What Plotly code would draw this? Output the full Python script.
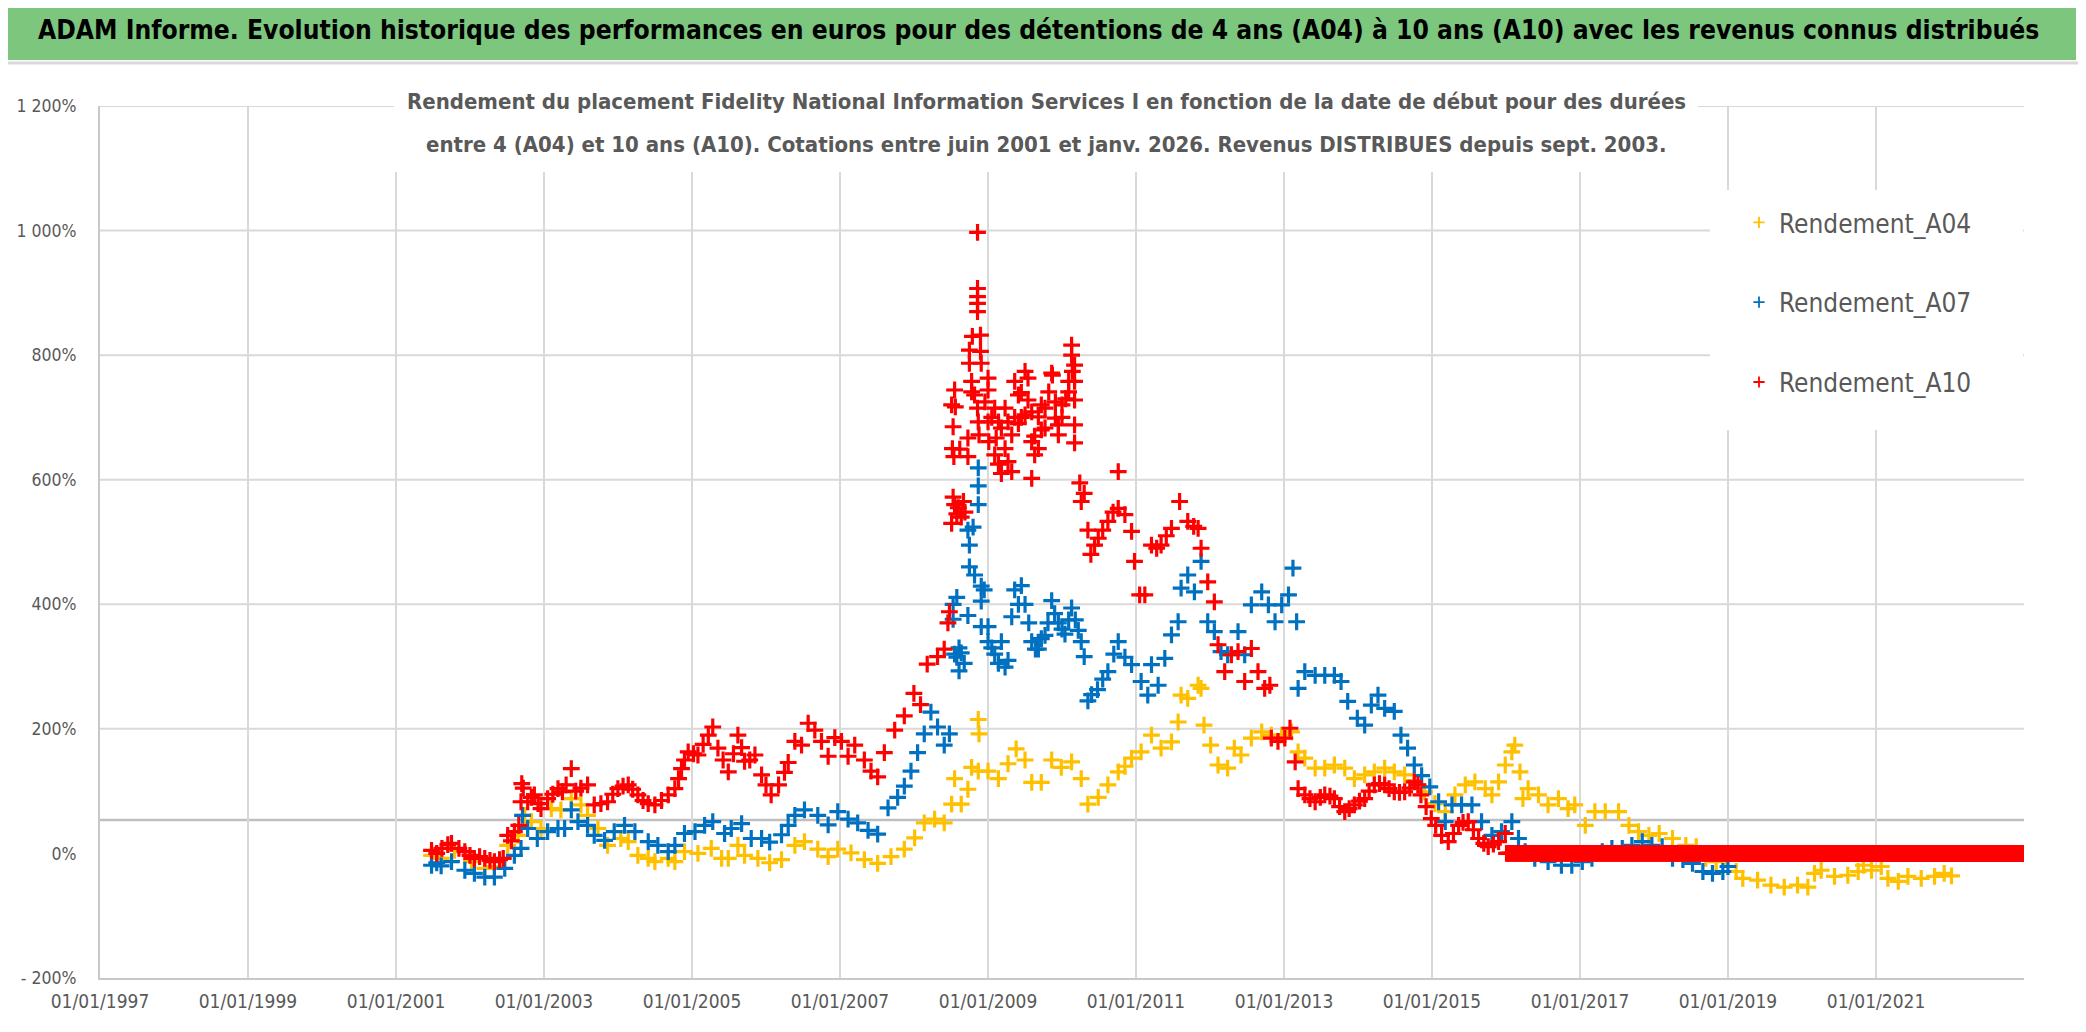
import pandas as pd
import plotly.graph_objects as go

# ---------------- data ----------------
A04_YEARS = [2001.48, 2001.61, 2001.79, 2002.02, 2002.20, 2002.33, 2002.51, 2002.65, 2002.74, 2002.83,
             2002.96, 2003.10, 2003.23, 2003.37, 2003.50, 2003.59, 2003.73, 2003.86, 2004.04, 2004.14,
             2004.27, 2004.41, 2004.50, 2004.68, 2004.77, 2004.90, 2005.08, 2005.26, 2005.40, 2005.49,
             2005.62, 2005.71, 2005.89, 2006.05, 2006.21, 2006.39, 2006.52, 2006.70, 2006.84, 2006.97,
             2007.15, 2007.33, 2007.51, 2007.69, 2007.87, 2008.01, 2008.14, 2008.28, 2008.41, 2008.51,
             2008.55, 2008.64, 2008.73, 2008.78, 2008.87, 2008.87, 2008.88, 2009.00, 2009.14, 2009.27,
             2009.38, 2009.50, 2009.59, 2009.72, 2009.86, 2009.99, 2010.13, 2010.26, 2010.35, 2010.49,
             2010.62, 2010.76, 2010.85, 2010.94, 2011.07, 2011.21, 2011.34, 2011.48, 2011.57, 2011.61,
             2011.70, 2011.84, 2011.88, 2011.92, 2012.01, 2012.11, 2012.24, 2012.33, 2012.42, 2012.56,
             2012.70, 2012.83, 2012.97, 2013.10, 2013.19, 2013.28, 2013.42, 2013.55, 2013.68, 2013.82,
             2013.95, 2014.09, 2014.22, 2014.36, 2014.49, 2014.63, 2014.76, 2014.90, 2015.04, 2015.18,
             2015.31, 2015.45, 2015.58, 2015.72, 2015.81, 2015.90, 2015.99, 2016.08, 2016.12, 2016.19,
             2016.23, 2016.30, 2016.44, 2016.57, 2016.71, 2016.84, 2016.93, 2017.07, 2017.20, 2017.34,
             2017.52, 2017.66, 2017.79, 2017.93, 2018.07, 2018.25, 2018.43, 2018.57, 2018.70, 2018.84,
             2018.98, 2019.11, 2019.20, 2019.40, 2019.58, 2019.76, 2019.94, 2020.08, 2020.17, 2020.26,
             2020.44, 2020.62, 2020.76, 2020.83, 2020.94, 2021.07, 2021.16, 2021.30, 2021.43, 2021.61,
             2021.79, 2021.92, 2022.02]
A04_VALUES = [-3, -8, 5, -13, -24, -21, 13, 29, 61, 51,
              40, 72, 70, 88, 78, 61, 40, 13, 24, 19,
              -3, -8, -13, -8, -13, 3, 0, 8, -8, -8,
              13, -3, -8, -15, -10, 13, 19, 7, -5, 7,
              1, -10, -16, -5, 7, 25, 49, 55, 49, 79,
              120, 79, 103, 138, 132, 215, 192, 132, 120, 144,
              168, 150, 114, 114, 150, 138, 147, 120, 79, 90,
              110, 131, 140, 153, 163, 190, 169, 179, 211, 254,
              249, 270, 265, 206, 174, 142, 137, 169, 158, 185,
              195, 190, 190, 195, 163, 153, 137, 137, 142, 137,
              120, 126, 131, 137, 131, 126, 117, 99, 80, 67,
              94, 110, 115, 104, 94, 115, 142, 163, 174, 131,
              88, 104, 94, 78, 88, 72, 78, 45, 67, 67,
              67, 45, 35, 29, 32, 24, 13, 11, -8, -13,
              -6, -29, -40, -43, -51, -54, -51, -54, -32, -27,
              -37, -35, -29, -19, -27, -21, -40, -45, -37, -40,
              -37, -32, -36]

A07_YEARS = [2001.48, 2001.55, 2001.61, 2001.75, 2001.93, 2002.06, 2002.20, 2002.33, 2002.47, 2002.60,
             2002.69, 2002.71, 2002.78, 2002.91, 2003.05, 2003.19, 2003.28, 2003.37, 2003.46, 2003.59,
             2003.68, 2003.82, 2003.95, 2004.09, 2004.23, 2004.41, 2004.54, 2004.68, 2004.77, 2004.90,
             2005.04, 2005.17, 2005.28, 2005.44, 2005.53, 2005.67, 2005.80, 2005.94, 2006.05, 2006.21,
             2006.30, 2006.39, 2006.52, 2006.70, 2006.84, 2006.97, 2007.11, 2007.24, 2007.38, 2007.51,
             2007.65, 2007.78, 2007.87, 2007.96, 2008.05, 2008.14, 2008.23, 2008.32, 2008.41, 2008.48,
             2008.53, 2008.53, 2008.55, 2008.58, 2008.58, 2008.61, 2008.61, 2008.64, 2008.68, 2008.73,
             2008.73, 2008.75, 2008.75, 2008.80, 2008.82, 2008.87, 2008.87, 2008.87, 2008.91, 2008.91,
             2008.91, 2008.95, 2009.00, 2009.00, 2009.05, 2009.09, 2009.14, 2009.18, 2009.23, 2009.27,
             2009.32, 2009.36, 2009.41, 2009.45, 2009.50, 2009.55, 2009.59, 2009.64, 2009.68, 2009.72,
             2009.77, 2009.81, 2009.86, 2009.90, 2009.95, 2010.00, 2010.04, 2010.09, 2010.13, 2010.18,
             2010.22, 2010.26, 2010.30, 2010.35, 2010.40, 2010.48, 2010.55, 2010.62, 2010.70, 2010.76,
             2010.85, 2010.94, 2011.07, 2011.16, 2011.21, 2011.30, 2011.39, 2011.48, 2011.57, 2011.61,
             2011.70, 2011.79, 2011.88, 2011.97, 2012.06, 2012.15, 2012.24, 2012.38, 2012.47, 2012.56,
             2012.70, 2012.79, 2012.88, 2012.97, 2013.06, 2013.12, 2013.17, 2013.19, 2013.28, 2013.42,
             2013.55, 2013.68, 2013.77, 2013.86, 2013.99, 2014.09, 2014.18, 2014.27, 2014.36, 2014.49,
             2014.58, 2014.67, 2014.76, 2014.86, 2014.97, 2015.09, 2015.18, 2015.27, 2015.40, 2015.54,
             2015.67, 2015.81, 2015.94, 2016.08, 2016.17, 2016.26, 2016.39, 2016.57, 2016.75, 2016.89,
             2017.03, 2017.16, 2017.30, 2017.43, 2017.57, 2017.70, 2017.84, 2017.97, 2018.11, 2018.25,
             2018.39, 2018.52, 2018.66, 2018.79, 2018.93, 2019.00]
A07_VALUES = [-19, -15, -20, -13, -27, -32, -38, -38, -24, -3,
              8, 61, 40, 24, 35, 40, 40, 70, 51, 45,
              29, 21, 35, 45, 35, 19, 13, 3, 13, 32,
              35, 45, 51, 32, 40, 48, 24, 24, 18, 30,
              45, 61, 70, 61, 46, 67, 55, 49, 37, 31,
              73, 90, 108, 132, 162, 192, 227, 203, 174, 192,
              400, 376, 320, 411, 315, 293, 330, 322, 305, 519,
              382, 495, 460, 524, 447, 590, 560, 619, 429, 405,
              364, 423, 364, 340, 330, 320, 305, 340, 299, 310,
              380, 423, 400, 430, 400, 370, 340, 328, 328, 345,
              350, 370, 406, 385, 370, 360, 352, 375, 394, 375,
              358, 340, 316, 245, 255, 263, 280, 292, 320, 340,
              315, 303, 276, 254, 303, 270, 313, 351, 372, 426,
              447, 420, 469, 372, 356, 324, 319, 356, 319, 399,
              420, 399, 372, 399, 415, 458, 372, 265, 292, 286,
              286, 286, 276, 244, 217, 206, 238, 254, 233, 228,
              190, 169, 142, 125, 107, 83, 51, 78, 78, 78,
              51, 29, 35, 51, 24, 3, -8, -13, -19, -19,
              -13, -8, 3, 8, 8, 13, 19, 13, 11, -8,
              -10, -16, -29, -32, -29, -21]

A10_YEARS = [2001.48, 2001.55, 2001.62, 2001.70, 2001.75, 2001.85, 2001.93, 2002.00, 2002.06, 2002.13,
             2002.20, 2002.27, 2002.33, 2002.40, 2002.45, 2002.51, 2002.56, 2002.60, 2002.66, 2002.69,
             2002.70, 2002.72, 2002.78, 2002.83, 2002.87, 2002.92, 2002.96, 2003.05, 2003.12, 2003.19,
             2003.25, 2003.30, 2003.37, 2003.43, 2003.50, 2003.59, 2003.68, 2003.77, 2003.86, 2003.93,
             2004.00, 2004.07, 2004.14, 2004.20, 2004.27, 2004.34, 2004.41, 2004.50, 2004.59, 2004.68,
             2004.77, 2004.82, 2004.86, 2004.90, 2004.95, 2005.02, 2005.08, 2005.15, 2005.22, 2005.28,
             2005.35, 2005.42, 2005.49, 2005.56, 2005.62, 2005.67, 2005.71, 2005.78, 2005.85, 2005.94,
             2006.00, 2006.07, 2006.17, 2006.25, 2006.30, 2006.39, 2006.48, 2006.57, 2006.66, 2006.75,
             2006.84, 2006.93, 2007.02, 2007.11, 2007.20, 2007.33, 2007.42, 2007.51, 2007.60, 2007.74,
             2007.87, 2008.00, 2008.09, 2008.18, 2008.32, 2008.41, 2008.46, 2008.48,
             2008.51, 2008.51, 2008.52, 2008.53, 2008.53, 2008.54, 2008.55, 2008.55, 2008.56, 2008.58,
             2008.60, 2008.62, 2008.64, 2008.67, 2008.69, 2008.73, 2008.73, 2008.75, 2008.75, 2008.78,
             2008.78, 2008.79, 2008.82, 2008.86, 2008.86, 2008.86, 2008.86, 2008.86, 2008.86, 2008.87,
             2008.88, 2008.90, 2008.90, 2008.91, 2009.00, 2009.00, 2008.96, 2009.00, 2009.01, 2009.05,
             2009.09, 2009.09, 2009.11, 2009.14, 2009.14, 2009.18, 2009.18, 2009.23, 2009.23, 2009.27,
             2009.27, 2009.32, 2009.32, 2009.36, 2009.36, 2009.41, 2009.41, 2009.45, 2009.45, 2009.50,
             2009.50, 2009.54, 2009.54, 2009.59, 2009.59, 2009.59, 2009.63, 2009.63, 2009.68, 2009.68,
             2009.72, 2009.72, 2009.77, 2009.77, 2009.82, 2009.86, 2009.87, 2009.91, 2009.91, 2009.95,
             2009.95, 2010.00, 2010.00, 2010.05, 2010.09, 2010.09, 2010.13, 2010.13, 2010.14, 2010.17,
             2010.17, 2010.17, 2010.17, 2010.17,
             2010.24, 2010.26, 2010.30, 2010.35, 2010.39, 2010.44, 2010.49, 2010.55, 2010.62, 2010.69,
             2010.76, 2010.76, 2010.85, 2010.94, 2010.98, 2011.05, 2011.12, 2011.21, 2011.28, 2011.34,
             2011.41, 2011.48, 2011.59, 2011.70, 2011.78, 2011.84, 2011.88, 2011.97, 2012.06, 2012.11,
             2012.20, 2012.29, 2012.38, 2012.47, 2012.56, 2012.65, 2012.74, 2012.81, 2012.83, 2012.92,
             2013.01, 2013.08, 2013.15, 2013.19, 2013.28, 2013.35, 2013.42, 2013.49, 2013.55, 2013.62,
             2013.68, 2013.75, 2013.82, 2013.88, 2013.95, 2014.02, 2014.09, 2014.15, 2014.22, 2014.29,
             2014.36, 2014.42, 2014.49, 2014.56, 2014.63, 2014.70, 2014.76, 2014.81, 2014.85, 2014.92,
             2014.99, 2015.05, 2015.13, 2015.22, 2015.29, 2015.36, 2015.42, 2015.49, 2015.56, 2015.63,
             2015.70, 2015.76, 2015.83, 2015.90, 2015.99]
A10_VALUES = [5, 0, 8, 14, 16, 8, 3, -3, -8, -5,
              -8, -11, -13, -10, -8, 29, 20, 35, 45, 83,
              112, 105, 83, 90, 94, 80, 72, 88, 95, 104,
              99, 110, 136, 100, 105, 110, 78, 80, 83, 95,
              104, 108, 110, 103, 94, 85, 80, 78, 85, 94,
              104, 120, 136, 150, 163, 160, 158, 175, 190, 203,
              169, 150, 131, 160, 190, 170, 148, 150, 158, 126,
              110, 94, 110, 130, 146, 180, 174, 209, 198, 180,
              156, 186, 180, 156, 174, 150, 132, 123, 162, 198,
              221, 257, 239, 304, 316, 328, 370, 388,
              530, 720, 650, 572, 685, 637, 560, 744, 717, 545,
              555, 649, 540, 565, 548, 667, 637, 808, 787, 758,
              741, 830, 736, 997, 907, 894, 883, 870, 715, 693,
              672, 832, 806, 787, 763, 744, 725, 693, 661, 700,
              715, 640, 667, 693, 625, 683, 610, 715, 650, 693,
              629, 672, 613, 758, 700, 736, 690, 740, 700, 774,
              704, 763, 728, 709, 661, 602, 640, 670, 701, 650,
              720, 680, 683, 715, 741, 771, 768, 725, 699, 672,
              688, 700, 720, 730, 741, 758, 816, 800, 774, 784,
              758, 728, 688, 659,
              595, 565, 578, 519, 480, 495, 506, 519, 533, 548,
              554, 613, 544, 517, 469, 415, 415, 495, 490, 495,
              510, 522, 565, 533, 525, 522, 490, 436, 404, 335,
              292, 319, 324, 276, 329, 292, 265, 270, 185, 180,
              185, 201, 147, 104, 94, 88, 83, 90, 94, 92,
              88, 75, 67, 72, 78, 84, 88, 100, 110, 112,
              110, 104, 99, 98, 99, 105, 115, 110, 94, 75,
              56, 45, 29, 19, 32, 45, 50, 51, 38, 24,
              16, 11, 15, 19, 32]

# after the end of the real quotes each series is reported at 0 % until the end of the axis
ZERO_FROM = {"A04": "2022-01-10", "A07": "2019-01-07", "A10": "2016-01-04"}
ZERO_UNTIL = "2022-12-31"
ZERO_VALUE = 0

SERIES = ["Rendement_A04", "Rendement_A07", "Rendement_A10"]
COLORS = ["#FFC000", "#0070C0", "#FF0000"]

Y_TICKS = [-200, 0, 200, 400, 600, 800, 1000, 1200]
Y_TICK_TEXT = ["- 200%", "0%", "200%", "400%", "600%", "800%", "1 000%", "1 200%"]
GRID_LEVELS = [200, 400, 600, 800, 1000, 1200]
AXIS_CROSS_LEVEL = 53.5
X_TICKS = ["1997-01-01", "1999-01-01", "2001-01-01", "2003-01-01", "2005-01-01", "2007-01-01",
           "2009-01-01", "2011-01-01", "2013-01-01", "2015-01-01", "2017-01-01", "2019-01-01",
           "2021-01-01"]
X_TICK_TEXT = ["01/01/1997", "01/01/1999", "01/01/2001", "01/01/2003", "01/01/2005", "01/01/2007",
               "01/01/2009", "01/01/2011", "01/01/2013", "01/01/2015", "01/01/2017", "01/01/2019",
               "01/01/2021"]
X_RANGE = ["1997-01-01", "2023-01-01"]

TITLE = ("ADAM Informe. Evolution historique des performances en euros pour des détentions "
         "de 4 ans (A04) à 10 ans (A10) avec les revenus connus distribués")
SUB1 = ("Rendement du placement Fidelity National Information Services I en fonction de la date "
        "de début pour des durées")
SUB2 = ("entre 4 (A04) et 10 ans (A10). Cotations entre juin 2001 et janv. 2026. "
        "Revenus DISTRIBUES depuis sept. 2003.")


def to_dates(years):
    out = []
    for y in years:
        base = pd.Timestamp(int(y), 1, 1)
        out.append(base + pd.Timedelta(days=(y - int(y)) * 365.25))
    return out


# ---------------- layout geometry ----------------
W, H = 2086, 1032
ML, MR, MT, MB = 92, 70, 98, 62
PW, PH = W - ML - MR, H - MT - MB


def px_x(x):
    return (x - ML) / PW


def px_y(y):
    return (H - MB - y) / PH


FONT = "DejaVu Sans Condensed, Liberation Sans Narrow, Liberation Sans, sans-serif"
GREY_TXT = "#595959"

fig = go.Figure()
data = {"A04": (A04_YEARS, A04_VALUES), "A07": (A07_YEARS, A07_VALUES), "A10": (A10_YEARS, A10_VALUES)}
for key, name, col in zip(["A04", "A07", "A10"], SERIES, COLORS):
    yrs, vals = data[key]
    zd = list(pd.date_range(ZERO_FROM[key], ZERO_UNTIL, freq="7D"))
    xs = to_dates(yrs) + zd
    ys = list(vals) + [ZERO_VALUE] * len(zd)
    fig.add_trace(go.Scatter(
        x=xs, y=ys, mode="markers", name=name, legendgroup=name, showlegend=False,
        marker=dict(symbol="cross-thin", size=12, color=col, line=dict(color=col, width=3.2)),
    ))
# legend entries (small markers like the reference legend)
for name, col in zip(SERIES, COLORS):
    fig.add_trace(go.Scatter(
        x=[None], y=[None], mode="markers", name=name, legendgroup=name, showlegend=True,
        marker=dict(symbol="cross-thin", size=8, color=col, line=dict(color=col, width=1.8)),
    ))

shapes = []
for lv in GRID_LEVELS:
    shapes.append(dict(type="line", xref="paper", yref="y", x0=0, x1=1, y0=lv, y1=lv,
                       line=dict(color="#D9D9D9", width=2), layer="below"))
shapes.append(dict(type="line", xref="paper", yref="y", x0=0, x1=1, y0=AXIS_CROSS_LEVEL,
                   y1=AXIS_CROSS_LEVEL, line=dict(color="#BFBFBF", width=2.5), layer="below"))
# header band and frame decorations
shapes.append(dict(type="rect", xref="paper", yref="paper", x0=px_x(0), x1=px_x(2068),
                   y0=px_y(52), y1=px_y(0), fillcolor="#7DC67E", line=dict(width=0), layer="above"))
shapes.append(dict(type="line", xref="paper", yref="paper", x0=px_x(0), x1=px_x(2086),
                   y0=px_y(55), y1=px_y(55), line=dict(color="#D9D9D9", width=3), layer="above"))
shapes.append(dict(type="line", xref="paper", yref="paper", x0=px_x(2080), x1=px_x(2080),
                   y0=px_y(56), y1=px_y(1032), line=dict(color="#D0D0D0", width=2), layer="above"))
shapes.append(dict(type="line", xref="paper", yref="paper", x0=px_x(0), x1=px_x(2086),
                   y0=px_y(1030), y1=px_y(1030), line=dict(color="#B0B0B0", width=2), layer="above"))
# white boxes behind subtitle and legend
shapes.append(dict(type="rect", xref="paper", yref="paper", x0=px_x(386), x1=px_x(1690),
                   y0=px_y(164), y1=px_y(84), fillcolor="white", line=dict(width=0), layer="above"))
shapes.append(dict(type="rect", xref="paper", yref="paper", x0=px_x(1702), x1=px_x(2015),
                   y0=px_y(422), y1=px_y(182), fillcolor="white", line=dict(width=0), layer="above"))

annotations = [
    dict(text="<b>" + TITLE + "</b>", xref="paper", yref="paper", x=px_x(1030), y=px_y(22),
         xanchor="center", yanchor="middle", showarrow=False,
         font=dict(family=FONT, size=26.2, color="black")),
    dict(text="<b>" + SUB1 + "</b>", xref="paper", yref="paper", x=px_x(1038), y=px_y(94),
         xanchor="center", yanchor="middle", showarrow=False,
         font=dict(family=FONT, size=22, color=GREY_TXT)),
    dict(text="<b>" + SUB2 + "</b>", xref="paper", yref="paper", x=px_x(1038), y=px_y(136),
         xanchor="center", yanchor="middle", showarrow=False,
         font=dict(family=FONT, size=22, color=GREY_TXT)),
]

fig.update_layout(
    width=W, height=H,
    margin=dict(l=ML, r=MR, t=MT, b=MB, autoexpand=False),
    paper_bgcolor="white", plot_bgcolor="white",
    shapes=shapes, annotations=annotations,
    showlegend=True,
    legend=dict(x=px_x(1731), y=px_y(191), xanchor="left", yanchor="top",
                bgcolor="rgba(0,0,0,0)", font=dict(family=FONT, size=26, color=GREY_TXT),
                tracegroupgap=43, itemsizing="trace"),
    xaxis=dict(type="date", range=X_RANGE, tickvals=X_TICKS, ticktext=X_TICK_TEXT,
               showgrid=True, gridcolor="#D9D9D9", gridwidth=1.5, zeroline=False,
               showline=True, linecolor="#C8C8C8", linewidth=2, ticks="",
               tickfont=dict(family=FONT, size=19, color=GREY_TXT), ticklabelstandoff=5),
    yaxis=dict(range=[-200, 1200], tickvals=Y_TICKS, ticktext=Y_TICK_TEXT, showgrid=False,
               zeroline=False, showline=True, linecolor="#C8C8C8", linewidth=2, ticks="",
               tickfont=dict(family=FONT, size=17.5, color=GREY_TXT), ticklabelstandoff=18),
)

fig.write_html("out.html")
